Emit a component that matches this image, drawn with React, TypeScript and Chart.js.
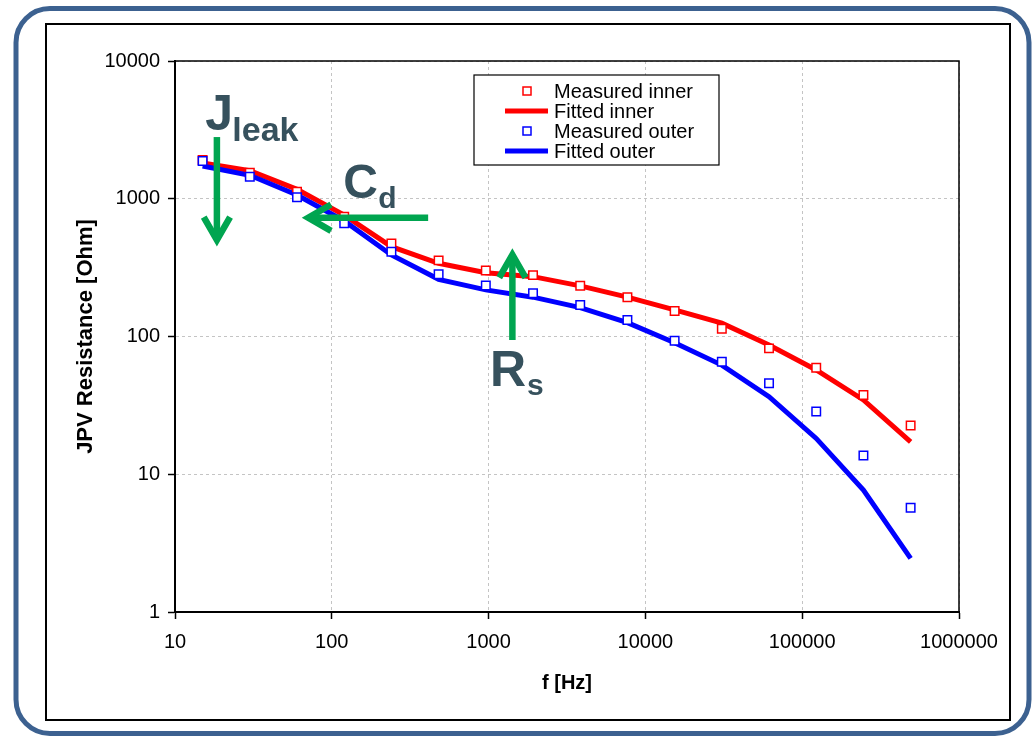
import React, { useEffect, useRef } from "react";
import { Chart, registerables } from "chart.js";

Chart.register(...registerables);

const FONT = "'Liberation Sans', Arial, Helvetica, sans-serif";
const RED = "#ff0000";
const BLUE = "#0000ff";
const GREEN = "#00a550";
const NOTE = "#36515d";

// Frequencies [Hz]
const frequencies = [15, 30, 60, 120, 240, 480, 960, 1920, 3840, 7680, 15360, 30720, 61440, 122880, 245760, 491520];
// JPV resistance [Ohm]
const measuredInner = [1910, 1545, 1125, 741, 474, 357, 301, 279, 234, 193, 153, 114, 82, 59.4, 37.6, 22.6];
const fittedInner = [1820, 1600, 1171, 760, 449, 340, 290, 272, 233, 193, 156, 125, 86.7, 57.2, 34.6, 17.2];
const measuredOuter = [1880, 1445, 1024, 664, 413, 283, 235, 206, 169, 132, 93.3, 65.6, 45.7, 28.5, 13.7, 5.71];
const fittedOuter = [1730, 1480, 1064, 690, 391, 260, 218, 193, 162, 126, 90, 62, 36.6, 18.2, 7.69, 2.45];

const xTicks = [10, 100, 1000, 10000, 100000, 1000000];
const yTicks = [1, 10, 100, 1000, 10000];

const seriesLabels = ["Measured inner", "Fitted inner", "Measured outer", "Fitted outer"];

// annotation arrows in data coordinates (from -> tip)
const arrowFrom = [[18.5, 2805], [411.6, 729], [1418, 94.3]];
const arrowTo = [[18.5, 478], [67.7, 729], [1418, 412.7]];
// annotation texts (left / baseline in data coordinates)
const noteTexts = ["J", "leak", "C", "d", "R", "s"];
const noteAt = [[15.6, 3155], [23.2, 2625], [118.2, 1012], [197.6, 857], [1022, 43.7], [1760, 37.6]];
const noteSizes = [50, 34, 48, 30, 50, 30];

const pts = (vals: number[]) => frequencies.map((f, i) => ({ x: f, y: vals[i] }));

const framePlugin = {
  id: "frame",
  beforeDraw(chart: any) {
    const ctx = chart.ctx;
    ctx.save();
    ctx.fillStyle = "#ffffff";
    ctx.fillRect(0, 0, chart.width, chart.height);
    ctx.strokeStyle = "#3c6190";
    ctx.lineWidth = 5;
    ctx.beginPath();
    (ctx as any).roundRect(16, 8.5, 1013, 725, 34);
    ctx.stroke();
    ctx.strokeStyle = "#000000";
    ctx.lineWidth = 2;
    ctx.strokeRect(46, 24, 964, 696);
    ctx.restore();
  },
  beforeDatasetsDraw(chart: any) {
    const { ctx, chartArea } = chart;
    ctx.save();
    ctx.strokeStyle = "#000";
    ctx.lineWidth = 1.5;
    ctx.strokeRect(chartArea.left, chartArea.top, chartArea.right - chartArea.left, chartArea.bottom - chartArea.top);
    ctx.restore();
  },
};

const notePlugin = {
  id: "notes",
  afterDatasetsDraw(chart: any) {
    const { ctx } = chart;
    const xs = chart.scales.x;
    const ys = chart.scales.y;
    ctx.save();
    ctx.strokeStyle = GREEN;
    ctx.lineWidth = 6.5;
    ctx.lineCap = "butt";
    ctx.lineJoin = "miter";
    const L = 29;
    const A = (27 * Math.PI) / 180;
    for (let i = 0; i < arrowFrom.length; i++) {
      const x1 = xs.getPixelForValue(arrowFrom[i][0]);
      const y1 = ys.getPixelForValue(arrowFrom[i][1]);
      const x2 = xs.getPixelForValue(arrowTo[i][0]);
      const y2 = ys.getPixelForValue(arrowTo[i][1]);
      const ang = Math.atan2(y2 - y1, x2 - x1);
      ctx.beginPath();
      ctx.moveTo(x1, y1);
      ctx.lineTo(x2 - 3 * Math.cos(ang), y2 - 3 * Math.sin(ang));
      ctx.stroke();
      ctx.beginPath();
      ctx.moveTo(x2 - L * Math.cos(ang - A), y2 - L * Math.sin(ang - A));
      ctx.lineTo(x2 - 3 * Math.cos(ang), y2 - 3 * Math.sin(ang));
      ctx.lineTo(x2 - L * Math.cos(ang + A), y2 - L * Math.sin(ang + A));
      ctx.stroke();
    }
    ctx.fillStyle = NOTE;
    ctx.textAlign = "left";
    ctx.textBaseline = "alphabetic";
    for (let i = 0; i < noteTexts.length; i++) {
      ctx.font = `bold ${noteSizes[i]}px ${FONT}`;
      ctx.fillText(noteTexts[i], xs.getPixelForValue(noteAt[i][0]), ys.getPixelForValue(noteAt[i][1]));
    }
    ctx.restore();
  },
};

const legendPlugin = {
  id: "boxLegend",
  afterDraw(chart: any) {
    const { ctx } = chart;
    const bx = 474, by = 75, bw = 245, bh = 90;
    ctx.save();
    ctx.fillStyle = "#fff";
    ctx.fillRect(bx, by, bw, bh);
    ctx.strokeStyle = "#000";
    ctx.lineWidth = 1.2;
    ctx.strokeRect(bx, by, bw, bh);
    chart.data.datasets.forEach((ds: any, i: number) => {
      const cy = by + 16 + i * 20;
      if (ds.showLine === false) {
        ctx.fillStyle = "#fff";
        ctx.strokeStyle = ds.borderColor;
        ctx.lineWidth = 1.5;
        ctx.fillRect(523, cy - 4, 8, 8);
        ctx.strokeRect(523, cy - 4, 8, 8);
      } else {
        ctx.strokeStyle = ds.borderColor;
        ctx.lineWidth = 5;
        ctx.beginPath();
        ctx.moveTo(505, cy);
        ctx.lineTo(548, cy);
        ctx.stroke();
      }
      ctx.fillStyle = "#000";
      ctx.font = `20px ${FONT}`;
      ctx.textAlign = "left";
      ctx.textBaseline = "middle";
      ctx.fillText(ds.label, 554, cy + 1);
    });
    ctx.restore();
  },
};

export default function App() {
  const ref = useRef<HTMLCanvasElement>(null);
  useEffect(() => {
    if (!ref.current) return;
    const markerDs = (label: string, vals: number[], color: string, order: number) => ({
      label,
      data: pts(vals),
      showLine: false,
      pointStyle: "rect",
      pointRadius: 6,
      pointBorderWidth: 1.5,
      borderColor: color,
      pointBorderColor: color,
      pointBackgroundColor: "#ffffff",
      backgroundColor: "#ffffff",
      order,
    });
    const lineDs = (label: string, vals: number[], color: string, order: number) => ({
      label,
      data: pts(vals),
      borderColor: color,
      backgroundColor: color,
      borderWidth: 5,
      pointRadius: 0,
      tension: 0,
      fill: false,
      order,
    });
    const chart = new Chart(ref.current, {
      type: "line",
      data: {
        datasets: [
          markerDs(seriesLabels[0], measuredInner, RED, 1),
          lineDs(seriesLabels[1], fittedInner, RED, 3),
          markerDs(seriesLabels[2], measuredOuter, BLUE, 0),
          lineDs(seriesLabels[3], fittedOuter, BLUE, 2),
        ] as any,
      },
      options: {
        responsive: false,
        animation: false,
        devicePixelRatio: 1,
        layout: { padding: { top: 61, right: 75, left: 0, bottom: 0 } },
        plugins: { legend: { display: false }, tooltip: { enabled: false } },
        scales: {
          x: {
            type: "logarithmic",
            min: 10,
            max: 1000000,
            afterFit: (s: any) => { s.height = 124; },
            afterBuildTicks: (s: any) => { s.ticks = xTicks.map((v) => ({ value: v })); },
            ticks: {
              callback: (v: any) => String(v),
              color: "#000",
              font: { family: FONT, size: 20 },
              padding: 11,
              autoSkip: false,
              maxRotation: 0,
            },
            grid: { color: "#c4c4c4", lineWidth: 1, tickLength: 7, tickColor: "#000", tickWidth: 1.5 },
            border: { display: true, color: "#000", width: 2, dash: [3, 3] },
            title: { display: true, text: "f [Hz]", color: "#000", font: { family: FONT, size: 20, weight: "bold" }, padding: { top: 0, bottom: 41 } },
          },
          y: {
            type: "logarithmic",
            min: 1,
            max: 10000,
            afterFit: (s: any) => { s.width = 175; },
            afterBuildTicks: (s: any) => { s.ticks = yTicks.map((v) => ({ value: v })); },
            ticks: {
              callback: (v: any) => String(v),
              color: "#000",
              font: { family: FONT, size: 20 },
              padding: 8,
              autoSkip: false,
            },
            grid: { color: "#c4c4c4", lineWidth: 1, tickLength: 7, tickColor: "#000", tickWidth: 1.5 },
            border: { display: true, color: "#000", width: 2, dash: [3, 3] },
            title: { display: true, text: "JPV Resistance [Ohm]", color: "#000", font: { family: FONT, size: 22, weight: "bold" }, padding: { top: 73, bottom: 0 } },
          },
        },
      } as any,
      plugins: [framePlugin, notePlugin, legendPlugin],
    });
    return () => chart.destroy();
  }, []);
  return (
    <div style={{ position: "fixed", left: 0, top: 0, width: 1034, height: 736, background: "#fff" }}>
      <canvas ref={ref} width={1034} height={736} style={{ display: "block", width: 1034, height: 736 }} />
    </div>
  );
}
